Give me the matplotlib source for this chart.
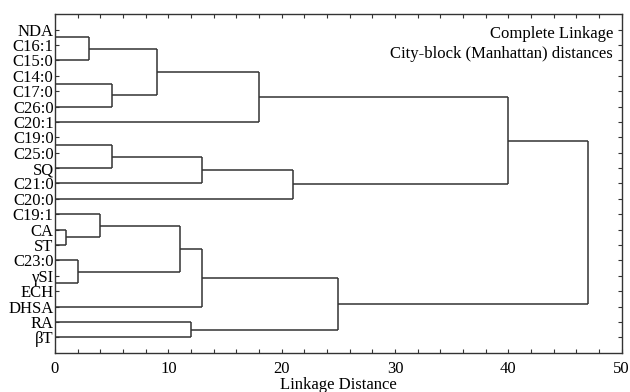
import numpy as np
import matplotlib
matplotlib.use('Agg')
import matplotlib.pyplot as plt
from matplotlib.ticker import MultipleLocator

plt.rcParams['font.family'] = 'Liberation Serif'

# Variable labels, top to bottom
labels = ['NDA', 'C16:1', 'C15:0', 'C14:0', 'C17:0', 'C26:0', 'C20:1', 'C19:0',
          'C25:0', 'SQ', 'C21:0', 'C20:0', 'C19:1', 'CA', 'ST', 'C23:0',
          '\u03b3SI', 'ECH', 'DHSA', 'RA', '\u03b2T']

# Leaf positions of the tree branches (in label-slot units, as drawn)
leaf_pos = [0.5, 2, 3.5, 5, 6, 7.5, 9, 10, 11, 12, 13, 14, 15, 16.5, 18, 19, 20]

# Merges: (node a, node b, linkage distance); new nodes numbered after leaves
merges = [
    (0, 1, 3),     # 17
    (2, 3, 5),     # 18
    (17, 18, 9),   # 19
    (19, 4, 18),   # 20
    (5, 6, 5),     # 21
    (21, 7, 13),   # 22
    (22, 8, 21),   # 23
    (20, 23, 40),  # 24
    (10, 11, 1),   # 25
    (9, 25, 4),    # 26
    (12, 13, 2),   # 27
    (26, 27, 11),  # 28
    (28, 14, 13),  # 29
    (15, 16, 12),  # 30
    (29, 30, 25),  # 31
    (24, 31, 47),  # 32
]

fig = plt.figure(figsize=(6.3, 3.92), dpi=100)
ax = fig.add_axes([0.0873, 0.1003, 0.8995, 0.8632])

lc = '#333333'
lw = 1.1
ny = [float(p) for p in leaf_pos]
nx = [0.0] * len(leaf_pos)
for a, b, h in merges:
    for c in (a, b):
        ax.plot([nx[c], h], [ny[c], ny[c]], color=lc, lw=lw, solid_capstyle='butt')
    ax.plot([h, h], [ny[a], ny[b]], color=lc, lw=lw, solid_capstyle='butt')
    ny.append((ny[a] + ny[b]) / 2)
    nx.append(h)

ax.set_xlim(0, 50)
ax.set_ylim(21, -1)
ax.set_yticks(range(len(labels)))
ax.set_yticklabels(labels, fontsize=12)
ax.xaxis.set_major_locator(MultipleLocator(10))
ax.xaxis.set_minor_locator(MultipleLocator(2))
ax.tick_params(axis='both', which='both', direction='in', top=True, right=True,
               length=3, width=0.8, color=lc)
ax.tick_params(axis='y', pad=1)
ax.tick_params(axis='x', labelsize=12, pad=6)
for s in ax.spines.values():
    s.set_color(lc)
    s.set_linewidth(1.0)

ax.set_xlabel('Linkage Distance', fontsize=12, labelpad=0)
ax.text(0.985, 0.965, 'Complete Linkage', transform=ax.transAxes,
        ha='right', va='top', fontsize=12)
ax.text(0.985, 0.905, 'City-block (Manhattan) distances', transform=ax.transAxes,
        ha='right', va='top', fontsize=12)

fig.savefig('out.png', dpi=100)
